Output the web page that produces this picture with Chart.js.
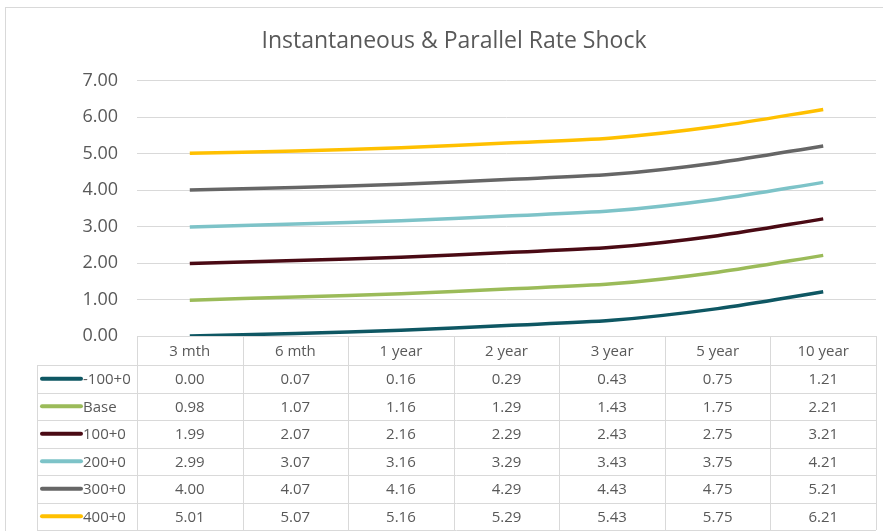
<!DOCTYPE html>
<html>
<head>
<meta charset="utf-8">
<script src="https://cdn.jsdelivr.net/npm/chart.js@4"></script>
<style>
  html, body { margin: 0; padding: 0; background: #fff; }
  #wrap { width: 883px; height: 531px; position: relative; }
</style>
</head>
<body>
<div id="wrap"><canvas id="rateChart"></canvas></div>
<script>
const categories = ["3 mth", "6 mth", "1 year", "2 year", "3 year", "5 year", "10 year"];

const seriesNames = ["-100+0", "Base", "100+0", "200+0", "300+0", "400+0"];
const shockDown100 = [0.00, 0.07, 0.16, 0.29, 0.43, 0.75, 1.21];
const baseCase = [0.98, 1.07, 1.16, 1.29, 1.43, 1.75, 2.21];
const shockUp100 = [1.99, 2.07, 2.16, 2.29, 2.43, 2.75, 3.21];
const shockUp200 = [2.99, 3.07, 3.16, 3.29, 3.43, 3.75, 4.21];
const shockUp300 = [4.00, 4.07, 4.16, 4.29, 4.43, 4.75, 5.21];
const shockUp400 = [5.01, 5.07, 5.16, 5.29, 5.43, 5.75, 6.21];

const yTicks = [0, 1, 2, 3, 4, 5, 6, 7];

const seriesColors = ["#0E5763", "#9BBB59", "#4A0A14", "#7DC3C8", "#666666", "#FFC000"];
const seriesData = [shockDown100, baseCase, shockUp100, shockUp200, shockUp300, shockUp400];

const textColor = "#595959";
const lineGray = "#D9D9D9";
const fontFamily = "'Open Sans', 'Noto Sans', sans-serif";

// the chart frame runs past the right edge, so the title sits a bit right of centre
const titleShiftPlugin = {
  id: "titleShift",
  afterLayout(chart) {
    if (chart.titleBlock) {
      chart.titleBlock.left += 16;
      chart.titleBlock.right += 16;
    }
  }
};

// data table drawn under the plot, columns follow the x scale
const dataTablePlugin = {
  id: "dataTable",
  afterDraw(chart) {
    const ctx = chart.ctx;
    const xScale = chart.scales.x;
    const area = chart.chartArea;
    const colW = (xScale.right - xScale.left) / categories.length;
    const headerTop = area.bottom;
    const headerH = 29;
    const rowH = 27.5;
    const legendLeft = 37;
    const tableBottom = headerTop + headerH + rowH * seriesNames.length;

    ctx.save();

    // outer chart border
    ctx.strokeStyle = lineGray;
    ctx.lineWidth = 1;
    ctx.strokeRect(5.5, 7.5, 900, 560);

    ctx.strokeStyle = lineGray;
    ctx.lineWidth = 1;
    ctx.beginPath();
    // horizontal lines
    ctx.moveTo(xScale.left, Math.round(headerTop) + 0.5);
    ctx.lineTo(xScale.right, Math.round(headerTop) + 0.5);
    for (let r = 0; r <= seriesNames.length; r++) {
      const y = Math.round(headerTop + headerH + r * rowH) + 0.5;
      ctx.moveTo(legendLeft, y);
      ctx.lineTo(xScale.right, y);
    }
    // vertical lines
    ctx.moveTo(legendLeft + 0.5, headerTop + headerH);
    ctx.lineTo(legendLeft + 0.5, tableBottom);
    for (let c = 0; c <= categories.length; c++) {
      const x = Math.round(xScale.left + c * colW) + 0.5;
      ctx.moveTo(x, headerTop);
      ctx.lineTo(x, tableBottom);
    }
    ctx.stroke();

    ctx.fillStyle = textColor;
    ctx.font = "15px " + fontFamily;
    ctx.textAlign = "center";
    ctx.textBaseline = "middle";
    categories.forEach((cat, i) => {
      ctx.fillText(cat, xScale.getPixelForValue(i), headerTop + headerH / 2 + 1);
    });

    seriesNames.forEach((name, r) => {
      const yMid = headerTop + headerH + r * rowH + rowH / 2;
      ctx.strokeStyle = seriesColors[r];
      ctx.lineWidth = 4;
      ctx.lineCap = "round";
      ctx.beginPath();
      ctx.moveTo(42, yMid);
      ctx.lineTo(81, yMid);
      ctx.stroke();

      ctx.fillStyle = textColor;
      ctx.textAlign = "left";
      ctx.fillText(name, 83, yMid + 1);

      ctx.textAlign = "center";
      seriesData[r].forEach((v, i) => {
        ctx.fillText(v.toFixed(2), xScale.getPixelForValue(i), yMid + 1);
      });
    });

    ctx.restore();
  }
};

new Chart(document.getElementById("rateChart"), {
  type: "line",
  data: {
    labels: categories,
    datasets: seriesNames.map((name, i) => ({
      label: name,
      data: seriesData[i],
      borderColor: seriesColors[i],
      backgroundColor: seriesColors[i],
      borderWidth: 3.5,
      pointRadius: 0,
      tension: 0.3,
      fill: false
    }))
  },
  options: {
    responsive: true,
    maintainAspectRatio: false,
    animation: false,
    layout: {
      padding: { left: 0, right: 7, top: 0, bottom: 195 }
    },
    plugins: {
      legend: { display: false },
      tooltip: { enabled: false },
      title: {
        display: true,
        text: "Instantaneous & Parallel Rate Shock",
        color: textColor,
        font: { family: fontFamily, size: 23, weight: "normal" },
        padding: { top: 28, bottom: 25 }
      }
    },
    scales: {
      x: {
        display: false,
        offset: true
      },
      y: {
        min: 0,
        max: 7,
        afterBuildTicks(scale) {
          scale.ticks = yTicks.map(v => ({ value: v }));
        },
        afterFit(scale) {
          scale.width = 137;
        },
        ticks: {
          color: textColor,
          padding: 19,
          font: { family: fontFamily, size: 18 },
          callback: v => Number(v).toFixed(2)
        },
        grid: {
          color: lineGray,
          drawTicks: false
        },
        border: { display: false }
      }
    }
  },
  plugins: [titleShiftPlugin, dataTablePlugin]
});
</script>
</body>
</html>
